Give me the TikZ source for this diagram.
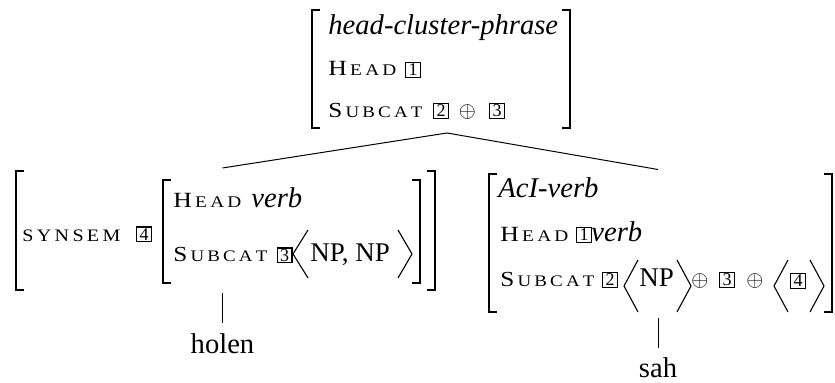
\documentclass[tikz,border=0pt]{standalone}
\usepackage{fontspec}
\usepackage{graphicx}
\setmainfont{Liberation Serif}
\newcommand\mainsz{\fontsize{14.3}{17}\selectfont}
\newcommand\npsz{\fontsize{13.5}{16}\selectfont}
\newcommand\numsz{\fontsize{9}{9}\selectfont}
\newcommand\ls{\kern1.5pt}
\newcommand\fbig[1]{{\fontsize{12}{12}\selectfont #1}}
\newcommand\fsm[1]{{\fontsize{9}{10}\selectfont #1}}
\newcommand\HEADf{\resizebox{34pt}{7.1pt}{\fbig{H}\ls\fsm{E\ls A\ls D}}}
\newcommand\SUBCATf{\resizebox{47pt}{7.1pt}{\fbig{S}\ls\fsm{U\ls B\ls C\ls A\ls T}}}
\newcommand\SYNSEMf{\resizebox{49pt}{5.8pt}{\fsm{S\ls Y\ls N\ls S\ls E\ls M}}}
\tikzset{
  txt/.style={inner sep=0pt, anchor=base west, font=\mainsz},
  leaf/.style={inner sep=0pt, anchor=base, font=\mainsz},
  num/.style={draw, line width=0.6pt, minimum size=7.4pt, inner sep=0pt, font=\numsz},
  opnode/.style={inner sep=0pt, anchor=base, font=\fontsize{11}{12}\selectfont},
  brk/.style={line width=1pt},
  ang/.style={line width=0.55pt},
  edge/.style={line width=0.5pt}
}
\begin{document}
\begin{tikzpicture}[x=0.5pt,y=-0.5pt]
\fill[white] (0,0) rectangle (835,383);
\useasboundingbox (0,0) rectangle (835,383);

% ---------- top AVM ----------
\draw[brk] (320,10) -- (312,10) -- (312,128) -- (320,128);
\draw[brk] (562,10) -- (570,10) -- (570,128) -- (562,128);
\node[txt] (tType) at (328,35) {\textit{head-cluster-phrase}};
\node[txt] (tHead) at (328,76) {\HEADf};
\node[num] (tB1) at (413,70) {1};
\node[txt] (tSub) at (328,118) {\SUBCATf};
\node[num] (tB2) at (441,111) {2};
\node[opnode] (tOp) at (467.5,118) {$\oplus$};
\node[num] (tB3) at (497,111) {3};

% ---------- tree edges ----------
\coordinate (apex) at (447,133);
\coordinate (lTop) at (222.5,168);
\coordinate (rTop) at (658,169.5);
\draw[edge] (apex) -- (lTop);
\draw[edge] (apex) -- (rTop);

% ---------- left daughter ----------
\draw[brk] (24,171) -- (16,171) -- (16,290) -- (24,290);
\draw[brk] (427,171) -- (435,171) -- (435,290) -- (427,290);
\node[txt] (lSyn) at (22,242) {\SYNSEMf};
\node[num] (lB4) at (144,234.5) {4};
\draw[brk] (171,180) -- (163,180) -- (163,283) -- (171,283);
\draw[brk] (412,180) -- (420,180) -- (420,283) -- (412,283);
\node[txt] (lHead) at (173,208) {\HEADf};
\node[txt] (lVerb) at (251,208) {\textit{verb}};
\node[txt] (lSub) at (173,262) {\SUBCATf};
\node[num] (lB3) at (284.5,255.5) {3};
\draw[ang] (308,230) -- (293,254) -- (308,278);
\node[txt, font=\npsz] (lNP) at (310,262) {NP, NP};
\draw[ang] (398,230) -- (412,254) -- (398,278);
\coordinate (lStemTop) at (222.5,293);
\coordinate (lStemBot) at (222.5,323);
\draw[edge] (lStemTop) -- (lStemBot);
\node[leaf] (holen) at (222.5,354) {holen};

% ---------- right daughter ----------
\draw[brk] (497,174) -- (489,174) -- (489,312) -- (497,312);
\draw[brk] (824,174) -- (832,174) -- (832,312) -- (824,312);
\node[txt] (rType) at (498,198) {\textit{AcI-verb}};
\node[txt] (rHead) at (500,242) {\HEADf};
\node[num] (rB1) at (584,235) {1};
\node[txt] (rVerb) at (591,242) {\textit{verb}};
\node[txt] (rSub) at (500,287) {\SUBCATf};
\node[num] (rB2) at (610,280) {2};
\draw[ang] (638,260) -- (624,286) -- (638,312);
\node[txt, font=\npsz] (rNP) at (639,287) {NP};
\draw[ang] (677,260) -- (691,286) -- (677,312);
\node[opnode] (rOp1) at (700,287) {$\oplus$};
\node[num] (rB3) at (727,280) {3};
\node[opnode] (rOp2) at (755,287) {$\oplus$};
\draw[ang] (788,260) -- (774,286) -- (788,312);
\node[num] (rB4) at (798,281) {4};
\draw[ang] (810,260) -- (824,286) -- (810,312);
\coordinate (rStemTop) at (658,318);
\coordinate (rStemBot) at (658,348);
\draw[edge] (rStemTop) -- (rStemBot);
\node[leaf] (sah) at (658,378) {sah};
\end{tikzpicture}
\end{document}
